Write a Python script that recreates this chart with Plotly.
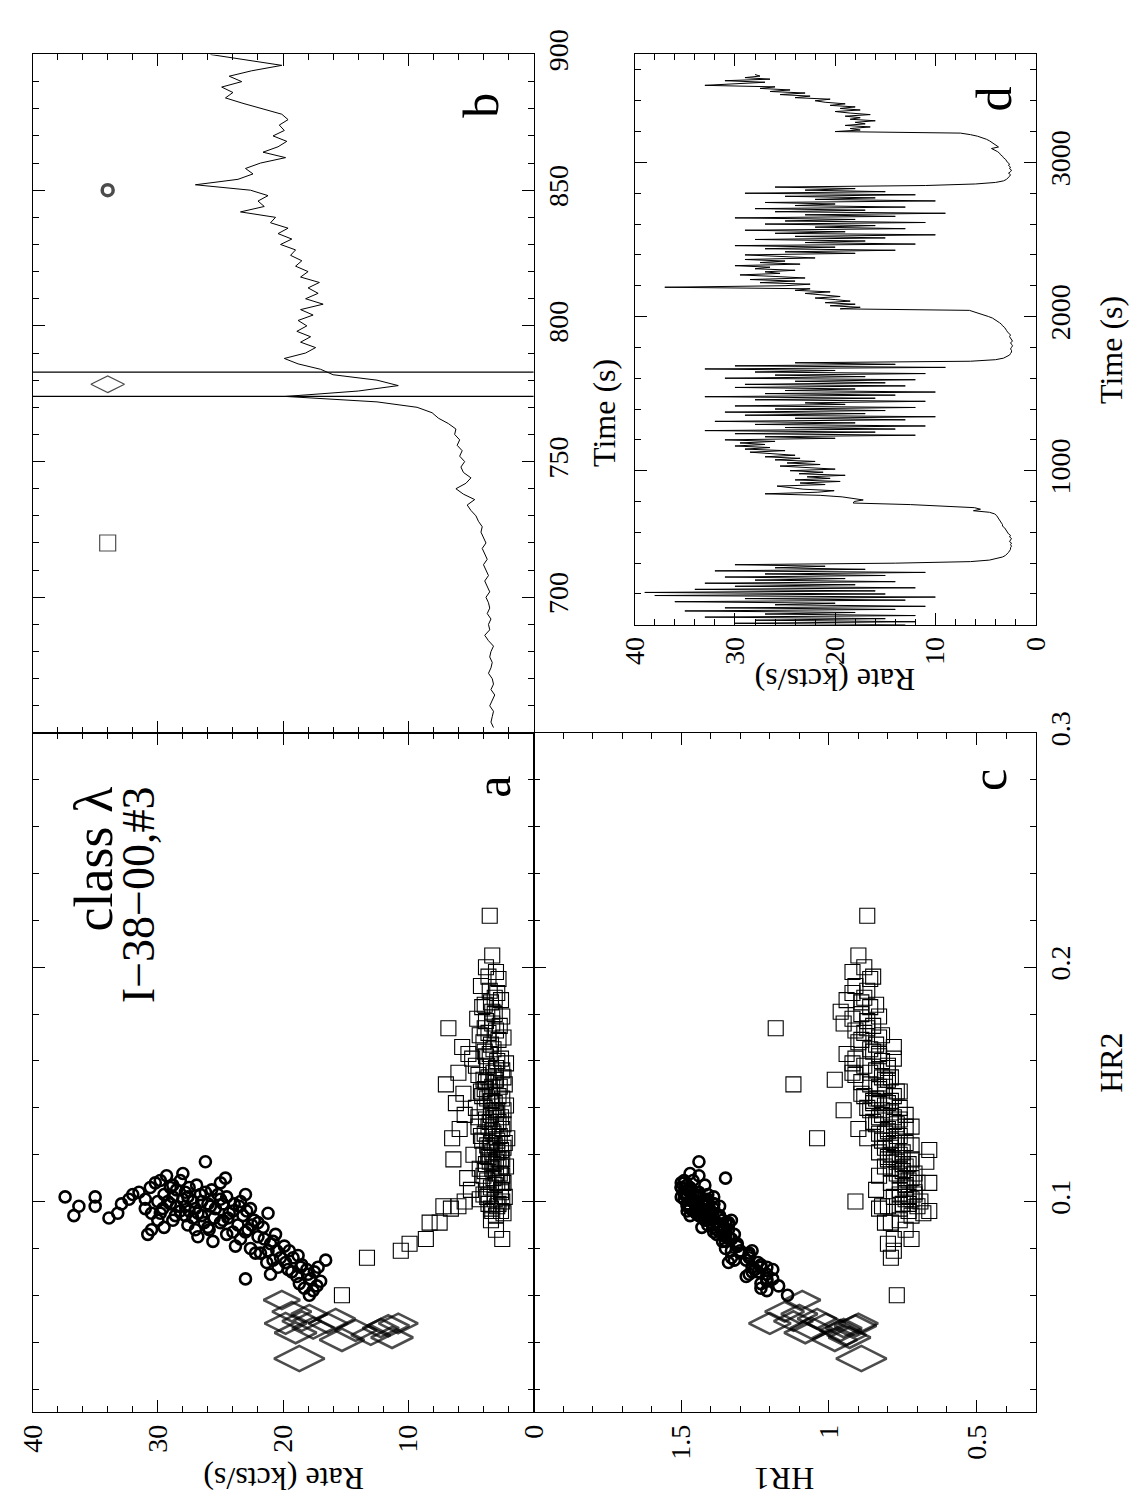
import plotly.graph_objects as go

# ---------------- DATA ----------------
# Panel b: zoom of the light curve, 652-900 s (2 s bins), rate in kcts/s
time_b = list(range(652, 902, 2))
rate_b = [3.2, 3.4, 3.3, 3.2, 3.5, 3.3, 3.1, 3.4, 3.2, 3.3,
          3.6, 3.4, 3.3, 3.5, 3.4, 3.2, 3.6, 3.9, 3.5, 3.6,
          3.4, 3.7, 3.5, 3.6, 3.8, 3.5, 3.7, 3.9, 3.6, 3.8,
          4.0, 3.7, 3.9, 4.1, 3.8, 4.0, 4.2, 4.1, 4.4, 4.6,
          5.0, 5.3, 4.7, 5.6, 6.2, 5.4, 5.0, 5.6, 5.8, 5.5,
          5.9, 5.7, 6.1, 5.9, 6.3, 6.2, 6.8, 7.6, 8.1, 9.3,
          12.5, 19.8, 14.0, 10.8, 12.5, 16.0, 17.0, 18.8, 19.9, 18.2,
          17.4, 18.6, 17.8, 18.9, 18.1, 18.8, 17.6, 18.6, 16.8, 18.2,
          17.2, 18.0, 17.1, 18.6, 18.0, 19.0, 18.5, 19.4, 19.0, 20.2,
          19.3, 20.4, 19.6, 21.0, 20.6, 23.4, 21.5, 22.0, 21.2, 22.6,
          27.0, 23.6, 22.4, 23.0, 21.8, 19.8, 21.6, 20.4, 19.7, 20.8,
          19.9, 20.3, 19.6, 20.1, 21.7, 23.2, 24.6, 24.0, 24.9, 23.3,
          24.3, 22.5, 20.1, 22.9, 25.8]
# Panel b: symbol keys and the two marks bracketing the dip
key_rate = [34, 34, 34]
key_time = [720, 778.5, 850]
key_symbol = ["square-open", "diamond-wide-open", "circle-open"]
dip_marks = [774.0, 783.0]

# Panel d: full light curve, 0-3570 s (10 s bins)
time_d = list(range(0, 3580, 10))
rate_d = [13, 30, 12, 28, 15, 33, 12, 27, 18, 35,
          14, 31, 11, 26, 20, 36, 13, 29, 10, 38,
          15, 39, 16, 34, 12, 30, 18, 33, 14, 28,
          19, 31, 15, 27, 11, 32, 17, 26, 21, 30,
          14, 6.5, 4.6, 3.8, 3.3, 3.0, 2.8, 2.7, 2.6, 2.5,
          2.5, 2.4, 2.5, 2.4, 2.6, 2.5, 2.4, 2.6, 2.5, 2.7,
          2.8, 2.9, 3.0, 3.1, 3.3, 3.3, 3.4, 3.5, 3.6, 3.7,
          3.8, 3.9, 4.1, 4.6, 6.2, 5.5, 6.1, 9.3, 12.5, 18.2,
          18.1, 17.2, 18.5, 19.3, 21.5, 27.0, 21.8, 20.1, 23.2, 24.3,
          25.8, 21.0, 23.5, 19.5, 24.0, 20.5, 22.8, 19.0, 23.6, 21.2,
          24.5, 20.0, 22.5, 25.5, 21.5, 24.8, 22.0, 26.0, 23.5, 27.0,
          24.0, 26.5, 28.5, 25.0, 29.0, 26.5, 30.0, 27.0, 29.5, 26.0,
          31, 20, 27, 12, 30, 16, 33, 14, 25, 11,
          28, 18, 32, 13, 24, 10, 29, 17, 31, 15,
          26, 12, 30, 19, 23, 11, 28, 16, 33, 14,
          27, 10, 25, 18, 30, 13, 29, 15, 24, 12,
          31, 17, 26, 11, 28, 20, 33, 9, 30, 14,
          24, 6.5, 4.0, 3.2, 2.8, 2.6, 2.5, 2.4, 2.4, 2.5,
          2.4, 2.3, 2.4, 2.5, 2.3, 2.4, 2.5, 2.6, 2.5, 2.7,
          2.8, 2.9, 3.0, 3.1, 3.3, 3.4, 3.6, 3.8, 4.0, 4.3,
          4.7, 5.2, 5.8, 6.2, 6.6, 19.5, 17.5, 20.5, 18.0, 21.0,
          18.5, 20.0, 22.0, 19.5, 21.5, 23.0, 20.5, 24.0, 22.5, 37.0,
          25.0, 22.5, 27.5, 24.0, 28.5, 23.0, 26.0, 29.5, 25.5, 27.0,
          24.0, 28.0, 26.5, 30.0, 23.5, 27.5, 25.0, 29.0, 22.0, 26.0,
          29, 18, 25, 14, 27, 20, 30, 12, 23, 17,
          28, 15, 24, 10, 26, 19, 29, 13, 22, 16,
          27, 11, 25, 18, 30, 14, 23, 9, 26, 17,
          28, 13, 24, 20, 27, 10, 22, 16, 25, 12,
          29, 15, 23, 18, 26, 11, 6.0, 4.0, 3.2, 2.9,
          2.7, 2.6, 2.5, 2.7, 2.5, 2.4, 2.6, 2.5, 2.7, 2.6,
          2.8, 2.9, 3.0, 3.2, 3.3, 3.5, 3.6, 3.8, 4.1, 4.4,
          3.7, 3.9, 4.1, 4.3, 4.6, 4.9, 5.3, 5.8, 6.5, 7.5,
          20.0, 17.5, 18.5, 16.5, 19.0, 17.0, 18.0, 16.0, 18.5, 17.5,
          19.0, 16.5, 18.5, 20.0, 17.5, 19.5, 18.0, 20.5, 19.0, 21.0,
          22.0, 20.5, 24.0, 22.5, 25.5, 23.0, 26.5, 24.5, 27.5, 26.0,
          33.0, 29.5, 27.0, 31.0, 26.5, 29.0, 27.5, 28.0]

# Circles (high-rate intervals): HR2, rate, HR1
circ_hr2 = [0.102, 0.094, 0.098, 0.102, 0.098, 0.093, 0.095, 0.099, 0.101, 0.103,
            0.104, 0.097, 0.086, 0.088, 0.108, 0.100, 0.095, 0.111, 0.106, 0.102,
            0.098, 0.092, 0.109, 0.104, 0.096, 0.100, 0.090, 0.107, 0.103, 0.117,
            0.094, 0.099, 0.105, 0.088, 0.097, 0.101, 0.092, 0.110, 0.095, 0.086,
            0.099, 0.090, 0.094, 0.084, 0.103, 0.088, 0.080, 0.092, 0.097, 0.085,
            0.089, 0.078, 0.095, 0.082, 0.074, 0.067, 0.069, 0.079, 0.076, 0.072,
            0.079, 0.074, 0.070, 0.077, 0.068, 0.073, 0.065, 0.071, 0.063, 0.067,
            0.062, 0.072, 0.066, 0.060, 0.075, 0.101, 0.097, 0.103, 0.099, 0.093,
            0.096, 0.091, 0.105, 0.100, 0.094, 0.098, 0.087, 0.102, 0.106, 0.095,
            0.089, 0.091, 0.083, 0.081, 0.108,
            0.096, 0.100, 0.093, 0.104, 0.098, 0.091, 0.107, 0.102, 0.095, 0.089,
            0.099, 0.093, 0.087, 0.096, 0.090, 0.084, 0.079, 0.086, 0.081, 0.076,
            0.072, 0.069, 0.064, 0.070, 0.083, 0.106, 0.109, 0.112, 0.097, 0.092,
            0.101, 0.098, 0.094, 0.088, 0.085, 0.103, 0.100, 0.078, 0.075, 0.071]
circ_rate = [37.4, 36.7, 36.3, 35.0, 35.0, 33.9, 33.2, 32.9, 32.3, 32.0,
             31.5, 31.0, 30.8, 30.5, 30.2, 30.0, 29.8, 29.3, 29.0, 28.8,
             28.5, 28.8, 28.2, 27.8, 27.5, 27.2, 27.6, 26.9, 26.6, 26.2,
             26.5, 26.0, 25.7, 25.9, 25.4, 25.0, 24.8, 24.6, 24.3, 24.5,
             23.9, 23.6, 23.2, 23.4, 23.0, 22.8, 22.6, 22.3, 22.6, 22.0,
             21.6, 21.8, 21.2, 21.0, 21.3, 23.0, 21.0, 20.5, 20.2, 20.4,
             19.5, 19.8, 19.3, 18.8, 18.9, 18.5, 18.7, 18.1, 18.3, 17.8,
             17.6, 17.2, 17.0, 17.9, 16.6, 28.0, 27.0, 29.5, 29.0, 25.5,
             24.0, 26.3, 28.5, 26.5, 27.8, 23.5, 24.0, 24.5, 27.5, 30.5,
             29.5, 22.0, 20.8, 23.8, 25.0,
             28.2, 29.2, 27.2, 26.2, 25.8, 25.0, 28.8, 27.6, 26.8, 26.0,
             24.8, 24.4, 23.0, 22.9, 22.5, 21.5, 21.2, 20.6, 19.9, 19.2,
             18.6, 18.0, 17.3, 17.5, 25.6, 30.6, 29.8, 28.0, 29.6, 30.0,
             31.0, 27.8, 28.6, 27.0, 26.8, 25.2, 23.4, 22.2, 20.8, 19.6]
circ_hr1 = [1.50, 1.37, 1.45, 1.44, 1.48, 1.37, 1.44, 1.39, 1.49, 1.46,
            1.49, 1.39, 1.38, 1.36, 1.50, 1.42, 1.44, 1.44, 1.50, 1.44,
            1.47, 1.36, 1.49, 1.44, 1.48, 1.41, 1.41, 1.42, 1.49, 1.44,
            1.44, 1.39, 1.47, 1.36, 1.47, 1.41, 1.42, 1.35, 1.45, 1.35,
            1.45, 1.34, 1.40, 1.33, 1.48, 1.34, 1.35, 1.33, 1.45, 1.34,
            1.39, 1.27, 1.40, 1.31, 1.34, 1.19, 1.27, 1.26, 1.33, 1.26,
            1.33, 1.24, 1.26, 1.27, 1.28, 1.23, 1.23, 1.19, 1.23, 1.21,
            1.21, 1.21, 1.21, 1.14, 1.32, 1.42, 1.45, 1.41, 1.48, 1.40,
            1.45, 1.35, 1.48, 1.43, 1.47, 1.37, 1.39, 1.39, 1.50, 1.42,
            1.43, 1.34, 1.35, 1.31, 1.49,
            1.44, 1.46, 1.40, 1.47, 1.42, 1.38, 1.48, 1.45, 1.43, 1.37,
            1.43, 1.39, 1.36, 1.40, 1.37, 1.33, 1.30, 1.32, 1.31, 1.27,
            1.23, 1.21, 1.17, 1.24, 1.36, 1.47, 1.46, 1.47, 1.45, 1.41,
            1.46, 1.44, 1.42, 1.38, 1.35, 1.45, 1.42, 1.30, 1.28, 1.25]

# Squares (low-rate intervals): HR2, rate, HR1
sq_hr2 = [0.222, 0.174, 0.150, 0.127, 0.100, 0.105, 0.098, 0.098, 0.097, 0.091,
          0.091, 0.084, 0.082, 0.079, 0.076, 0.060, 0.084, 0.096, 0.088, 0.092,
          0.205, 0.200, 0.198, 0.195, 0.192, 0.190, 0.186, 0.184, 0.180, 0.178,
          0.175, 0.172, 0.170, 0.168, 0.165, 0.163, 0.160, 0.158, 0.156, 0.154,
          0.152, 0.150, 0.148, 0.146, 0.145, 0.143, 0.141, 0.140, 0.138, 0.136,
          0.135, 0.133, 0.131, 0.130, 0.128, 0.126, 0.125, 0.123, 0.121, 0.120,
          0.118, 0.116, 0.115, 0.113, 0.112, 0.110, 0.108, 0.107, 0.105, 0.103,
          0.102, 0.101, 0.099, 0.097, 0.167, 0.162, 0.157, 0.153, 0.149, 0.144,
          0.139, 0.134, 0.129, 0.124, 0.119, 0.114, 0.185, 0.177, 0.173, 0.161,
          0.142, 0.137, 0.118, 0.155, 0.166, 0.132, 0.147, 0.159, 0.127, 0.111,
          0.181, 0.152, 0.139, 0.122, 0.117, 0.108,
          0.196, 0.189, 0.183, 0.179, 0.176, 0.171, 0.169, 0.164, 0.161, 0.158,
          0.155, 0.153, 0.151, 0.149, 0.147, 0.145, 0.144, 0.142, 0.140, 0.139,
          0.137, 0.136, 0.134, 0.132, 0.131, 0.129, 0.128, 0.126, 0.124, 0.123,
          0.121, 0.120, 0.118, 0.117, 0.115, 0.114, 0.112, 0.111, 0.109, 0.108,
          0.106, 0.104, 0.103, 0.101, 0.100, 0.099, 0.098, 0.096, 0.095, 0.094,
          0.187, 0.174, 0.163, 0.152, 0.143, 0.133, 0.125, 0.116, 0.110, 0.102]
sq_rate = [3.5, 6.8, 7.0, 6.5, 5.5, 5.0, 6.0, 7.2, 6.6, 7.5,
           8.3, 8.6, 9.9, 10.6, 13.3, 15.3, 2.5, 2.6, 3.0, 3.4,
           3.3, 3.8, 3.0, 2.8, 4.2, 3.5, 2.6, 3.9, 3.1, 4.5,
           2.7, 3.6, 2.4, 4.0, 3.2, 5.2, 2.9, 3.7, 2.5, 4.4,
           3.1, 2.3, 3.9, 5.6, 2.8, 3.4, 2.2, 4.6, 3.0, 2.6,
           3.8, 2.4, 5.9, 3.3, 2.7, 4.1, 2.3, 3.5, 2.9, 4.8,
           2.5, 3.2, 2.2, 3.9, 2.7, 5.3, 2.4, 3.1, 2.6, 3.6,
           2.3, 4.3, 2.8, 3.4, 3.4, 3.8, 3.0, 3.6, 3.3, 3.7,
           3.2, 3.5, 3.9, 3.1, 3.6, 3.3, 3.4, 3.8, 3.0, 4.9,
           6.2, 5.5, 6.4, 6.0, 5.7, 4.4, 4.2, 2.2, 2.1, 4.0,
           3.3, 4.0, 2.9, 2.6, 3.0, 2.5,
           3.6, 2.9, 4.1, 2.5, 3.3, 4.3, 2.8, 3.9, 2.6, 4.6,
           3.2, 2.4, 3.8, 2.7, 3.5, 4.1, 2.5, 3.1, 3.9, 2.4,
           3.4, 4.4, 2.8, 3.6, 2.5, 3.2, 4.2, 2.9, 3.7, 2.4,
           3.3, 4.0, 2.8, 3.5, 2.6, 4.3, 3.0, 2.5, 3.7, 2.9,
           3.4, 2.6, 4.0, 3.1, 2.5, 3.6, 2.9, 3.3, 2.4, 3.0,
           3.1, 3.9, 3.5, 3.0, 3.3, 3.0, 3.4, 3.8, 3.2, 3.7]
sq_hr1 = [0.87, 1.18, 1.12, 1.04, 0.91, 0.84, 0.82, 0.80, 0.83, 0.81,
          0.79, 0.78, 0.80, 0.78, 0.79, 0.77, 0.72, 0.66, 0.74, 0.76,
          0.90, 0.88, 0.92, 0.86, 0.91, 0.87, 0.94, 0.84, 0.89, 0.92,
          0.85, 0.88, 0.83, 0.90, 0.86, 0.94, 0.82, 0.88, 0.84, 0.91,
          0.80, 0.86, 0.83, 0.89, 0.78, 0.85, 0.81, 0.87, 0.79, 0.83,
          0.76, 0.84, 0.90, 0.80, 0.77, 0.82, 0.74, 0.79, 0.83, 0.76,
          0.78, 0.73, 0.81, 0.75, 0.77, 0.72, 0.79, 0.74, 0.76, 0.71,
          0.78, 0.74, 0.73, 0.76, 0.84, 0.83, 0.80, 0.82, 0.81, 0.83,
          0.82, 0.78, 0.81, 0.77, 0.80, 0.76, 0.89, 0.87, 0.91, 0.78,
          0.85, 0.74, 0.80, 0.92, 0.78, 0.72, 0.76, 0.92, 0.87, 0.83,
          0.96, 0.98, 0.95, 0.66, 0.67, 0.66,
          0.85, 0.92, 0.86, 0.83, 0.95, 0.82, 0.89, 0.85, 0.91, 0.80,
          0.86, 0.79, 0.89, 0.83, 0.77, 0.88, 0.84, 0.80, 0.76, 0.86,
          0.82, 0.78, 0.85, 0.74, 0.80, 0.83, 0.76, 0.79, 0.72, 0.81,
          0.75, 0.79, 0.72, 0.77, 0.74, 0.79, 0.71, 0.76, 0.73, 0.70,
          0.74, 0.71, 0.76, 0.72, 0.69, 0.75, 0.70, 0.73, 0.68, 0.72,
          0.88, 0.87, 0.83, 0.81, 0.79, 0.77, 0.78, 0.75, 0.74, 0.73]

# Diamonds (the dip interval): HR2, rate, HR1, symbol size
dia_hr2 = [0.033, 0.048, 0.053, 0.058, 0.049, 0.046, 0.048, 0.041, 0.045,
           0.043, 0.047, 0.048, 0.042, 0.052, 0.044, 0.050, 0.046]
dia_rate = [18.7, 19.8, 19.3, 20.1, 18.5, 17.6, 16.4, 15.3, 14.2,
            13.0, 11.6, 10.8, 11.3, 17.9, 19.0, 15.8, 12.2]
dia_hr1 = [0.89, 1.20, 1.15, 1.09, 1.12, 1.06, 1.01, 0.98, 0.96,
           0.94, 0.91, 0.90, 0.93, 1.10, 1.08, 1.04, 0.95]
dia_size = [36, 30, 28, 26, 28, 30, 28, 32, 30, 28, 30, 28, 30, 26, 30, 28, 26]

rate_ticks = [0, 10, 20, 30, 40]
hr1_ticks = [0.5, 1, 1.5]
hr1_labels = ["0.5", "1", "1.5"]
hr2_ticks = [0.1, 0.2, 0.3]
time_b_ticks = [700, 750, 800, 850, 900]
time_d_ticks = [1000, 2000, 3000]

# ---------------- LAYOUT HELPERS ----------------
W, H = 1143, 1497
def fx(p):
    return p / W
def fy(p):
    return 1 - p / H

FONT = "Liberation Serif"
TICKFONT = dict(family=FONT, size=28, color="black")

def axis(**kw):
    d = dict(showline=True, linecolor="black", linewidth=1, mirror="ticks",
             ticks="inside", ticklen=12, tickwidth=1, tickcolor="black",
             showgrid=False, zeroline=False, tickfont=TICKFONT)
    d.update(kw)
    return d

def minor(dt, t0=0):
    return dict(ticks="inside", ticklen=6, tickwidth=1, tickcolor="black",
                tickmode="linear", tick0=t0, dtick=dt, showgrid=False)

XL = [fx(17), fx(532)]
XC = [fx(532), fx(1048)]
XD = [fx(636), fx(1048)]
YB = [fy(720), fy(30)]
YA = [fy(1411), fy(720)]
YD = [fy(610), fy(30)]

fig = go.Figure()

circ = dict(symbol="circle-open", size=11, color="black", line=dict(width=2.6))
sq = dict(symbol="square-open", size=15, color="black", line=dict(width=1.1))
dia = dict(symbol="diamond-wide-open", size=dia_size, color="black", line=dict(width=2.6))

# panel a
fig.add_trace(go.Scatter(x=sq_rate, y=sq_hr2, mode="markers", marker=sq, xaxis="x", yaxis="y"))
fig.add_trace(go.Scatter(x=circ_rate, y=circ_hr2, mode="markers", marker=circ, xaxis="x", yaxis="y"))
fig.add_trace(go.Scatter(x=dia_rate, y=dia_hr2, mode="markers", marker=dia, xaxis="x", yaxis="y"))
# panel c
fig.add_trace(go.Scatter(x=sq_hr1, y=sq_hr2, mode="markers", marker=sq, xaxis="x3", yaxis="y3"))
fig.add_trace(go.Scatter(x=circ_hr1, y=circ_hr2, mode="markers", marker=circ, xaxis="x3", yaxis="y3"))
fig.add_trace(go.Scatter(x=dia_hr1, y=dia_hr2, mode="markers", marker=dia, xaxis="x3", yaxis="y3"))
# panel b
fig.add_trace(go.Scatter(x=rate_b, y=time_b, mode="lines", line=dict(color="black", width=1),
                         xaxis="x2", yaxis="y2"))
fig.add_trace(go.Scatter(x=key_rate, y=key_time, mode="markers",
                         marker=dict(symbol=key_symbol, size=[16, 24, 11], color="black",
                                     line=dict(width=[1.2, 1.2, 3.5])),
                         xaxis="x2", yaxis="y2"))
# panel d
fig.add_trace(go.Scatter(x=rate_d, y=time_d, mode="lines", line=dict(color="black", width=1),
                         xaxis="x4", yaxis="y4"))

shapes = []
for t in dip_marks:
    shapes.append(dict(type="line", xref="x2 domain", yref="y2", x0=0, x1=1, y0=t, y1=t,
                       line=dict(color="black", width=1.2)))

def ann(text, x, y, angle, size=32, xa="center", ya="middle"):
    return dict(text=text, x=x, y=y, xref="paper", yref="paper", showarrow=False,
                textangle=angle, xanchor=xa, yanchor=ya,
                font=dict(family=FONT, size=size, color="black"))

annotations = [
    ann("Rate (kcts/s)", fx(275), fy(1478), 180),
    ann("HR1", fx(790), fy(1478), 180),
    ann("Rate (kcts/s)", fx(842), fy(666), 180),
    ann("Time (s)", fx(605), fy(395), -90),
    ann("Time (s)", fx(1126), fy(330), -90),
    ann("HR2", fx(1126), fy(1055), -90),
    ann("class λ", fx(80), fy(772), -90, size=54, ya="top"),
    ann("I\u221238\u221200,#3", fx(126), fy(772), -90, size=46, ya="top"),
    ann("a", fx(490), fy(775), -90, size=50),
    ann("b", fx(478), fy(82), -90, size=50),
    ann("c", fx(1000), fy(768), -90, size=50),
    ann("d", fx(1005), fy(75), -90, size=50),
]

fig.update_layout(
    width=W, height=H, margin=dict(l=0, r=0, t=0, b=0),
    paper_bgcolor="white", plot_bgcolor="white", showlegend=False,
    xaxis=axis(domain=XL, anchor="y", range=[40, 0], tickmode="array", tickvals=rate_ticks,
               tickangle=-90, minor=minor(2)),
    yaxis=axis(domain=YA, anchor="x", range=[0.01, 0.3], tickmode="array", tickvals=hr2_ticks,
               showticklabels=False, minor=minor(0.02)),
    xaxis2=axis(domain=XL, anchor="y2", range=[40, 0], tickmode="array", tickvals=rate_ticks,
                showticklabels=False, minor=minor(2)),
    yaxis2=axis(domain=YB, anchor="x2", side="right", range=[650, 900], tickmode="array",
                tickvals=time_b_ticks, tickangle=-90, minor=minor(10)),
    xaxis3=axis(domain=XC, anchor="y3", range=[2.0, 0.3], tickmode="array", tickvals=hr1_ticks,
                ticktext=hr1_labels, tickangle=-90, minor=minor(0.1)),
    yaxis3=axis(domain=YA, anchor="x3", side="right", range=[0.01, 0.3], tickmode="array",
                tickvals=hr2_ticks, tickangle=-90, minor=minor(0.02)),
    xaxis4=axis(domain=XD, anchor="y4", range=[40, 0], tickmode="array", tickvals=rate_ticks,
                tickangle=-90, minor=minor(2)),
    yaxis4=axis(domain=YD, anchor="x4", side="right", range=[0, 3700], tickmode="array",
                tickvals=time_d_ticks, tickangle=-90, minor=minor(200)),
    shapes=shapes,
    annotations=annotations,
)

fig.write_html("out.html")
